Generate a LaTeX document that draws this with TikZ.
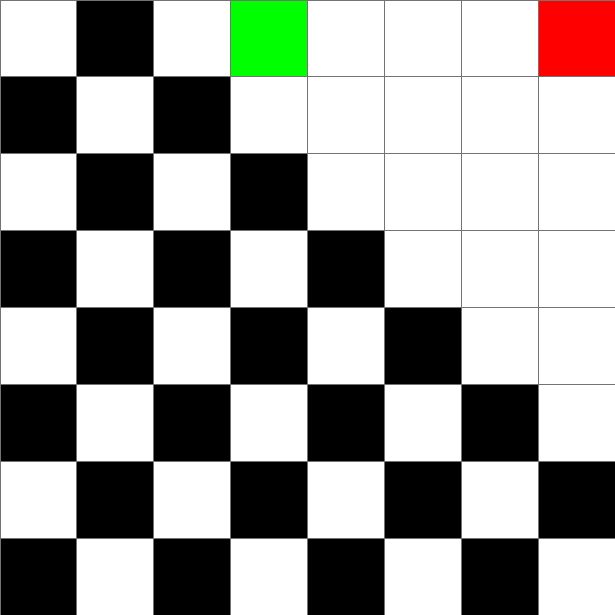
\documentclass[tikz,border=0pt]{standalone}
\usetikzlibrary{calc}

\begin{document}
\begin{tikzpicture}[x=1cm,y=1cm,cell/.style={draw=black!55,line width=0.3pt}]
  \useasboundingbox (0,0) rectangle (8,8);
  \foreach \r in {0,...,7} {
    \foreach \c in {0,...,7} {
      \pgfmathtruncatemacro{\odd}{mod(\r+\c,2)}
      \pgfmathtruncatemacro{\inside}{\c<=\r+1 ? 1 : 0}
      \ifnum\odd=1 \ifnum\inside=1
        \fill[black] (\c,7-\r) rectangle ++(1,1);
      \fi\fi
      \draw[cell] (\c,7-\r) rectangle ++(1,1);
    }
  }
  \fill[green,draw=black!55,line width=0.3pt] (3,7) rectangle (4,8);
  \fill[red,draw=black!55,line width=0.3pt] (7,7) rectangle (8,8);
\end{tikzpicture}
\end{document}
